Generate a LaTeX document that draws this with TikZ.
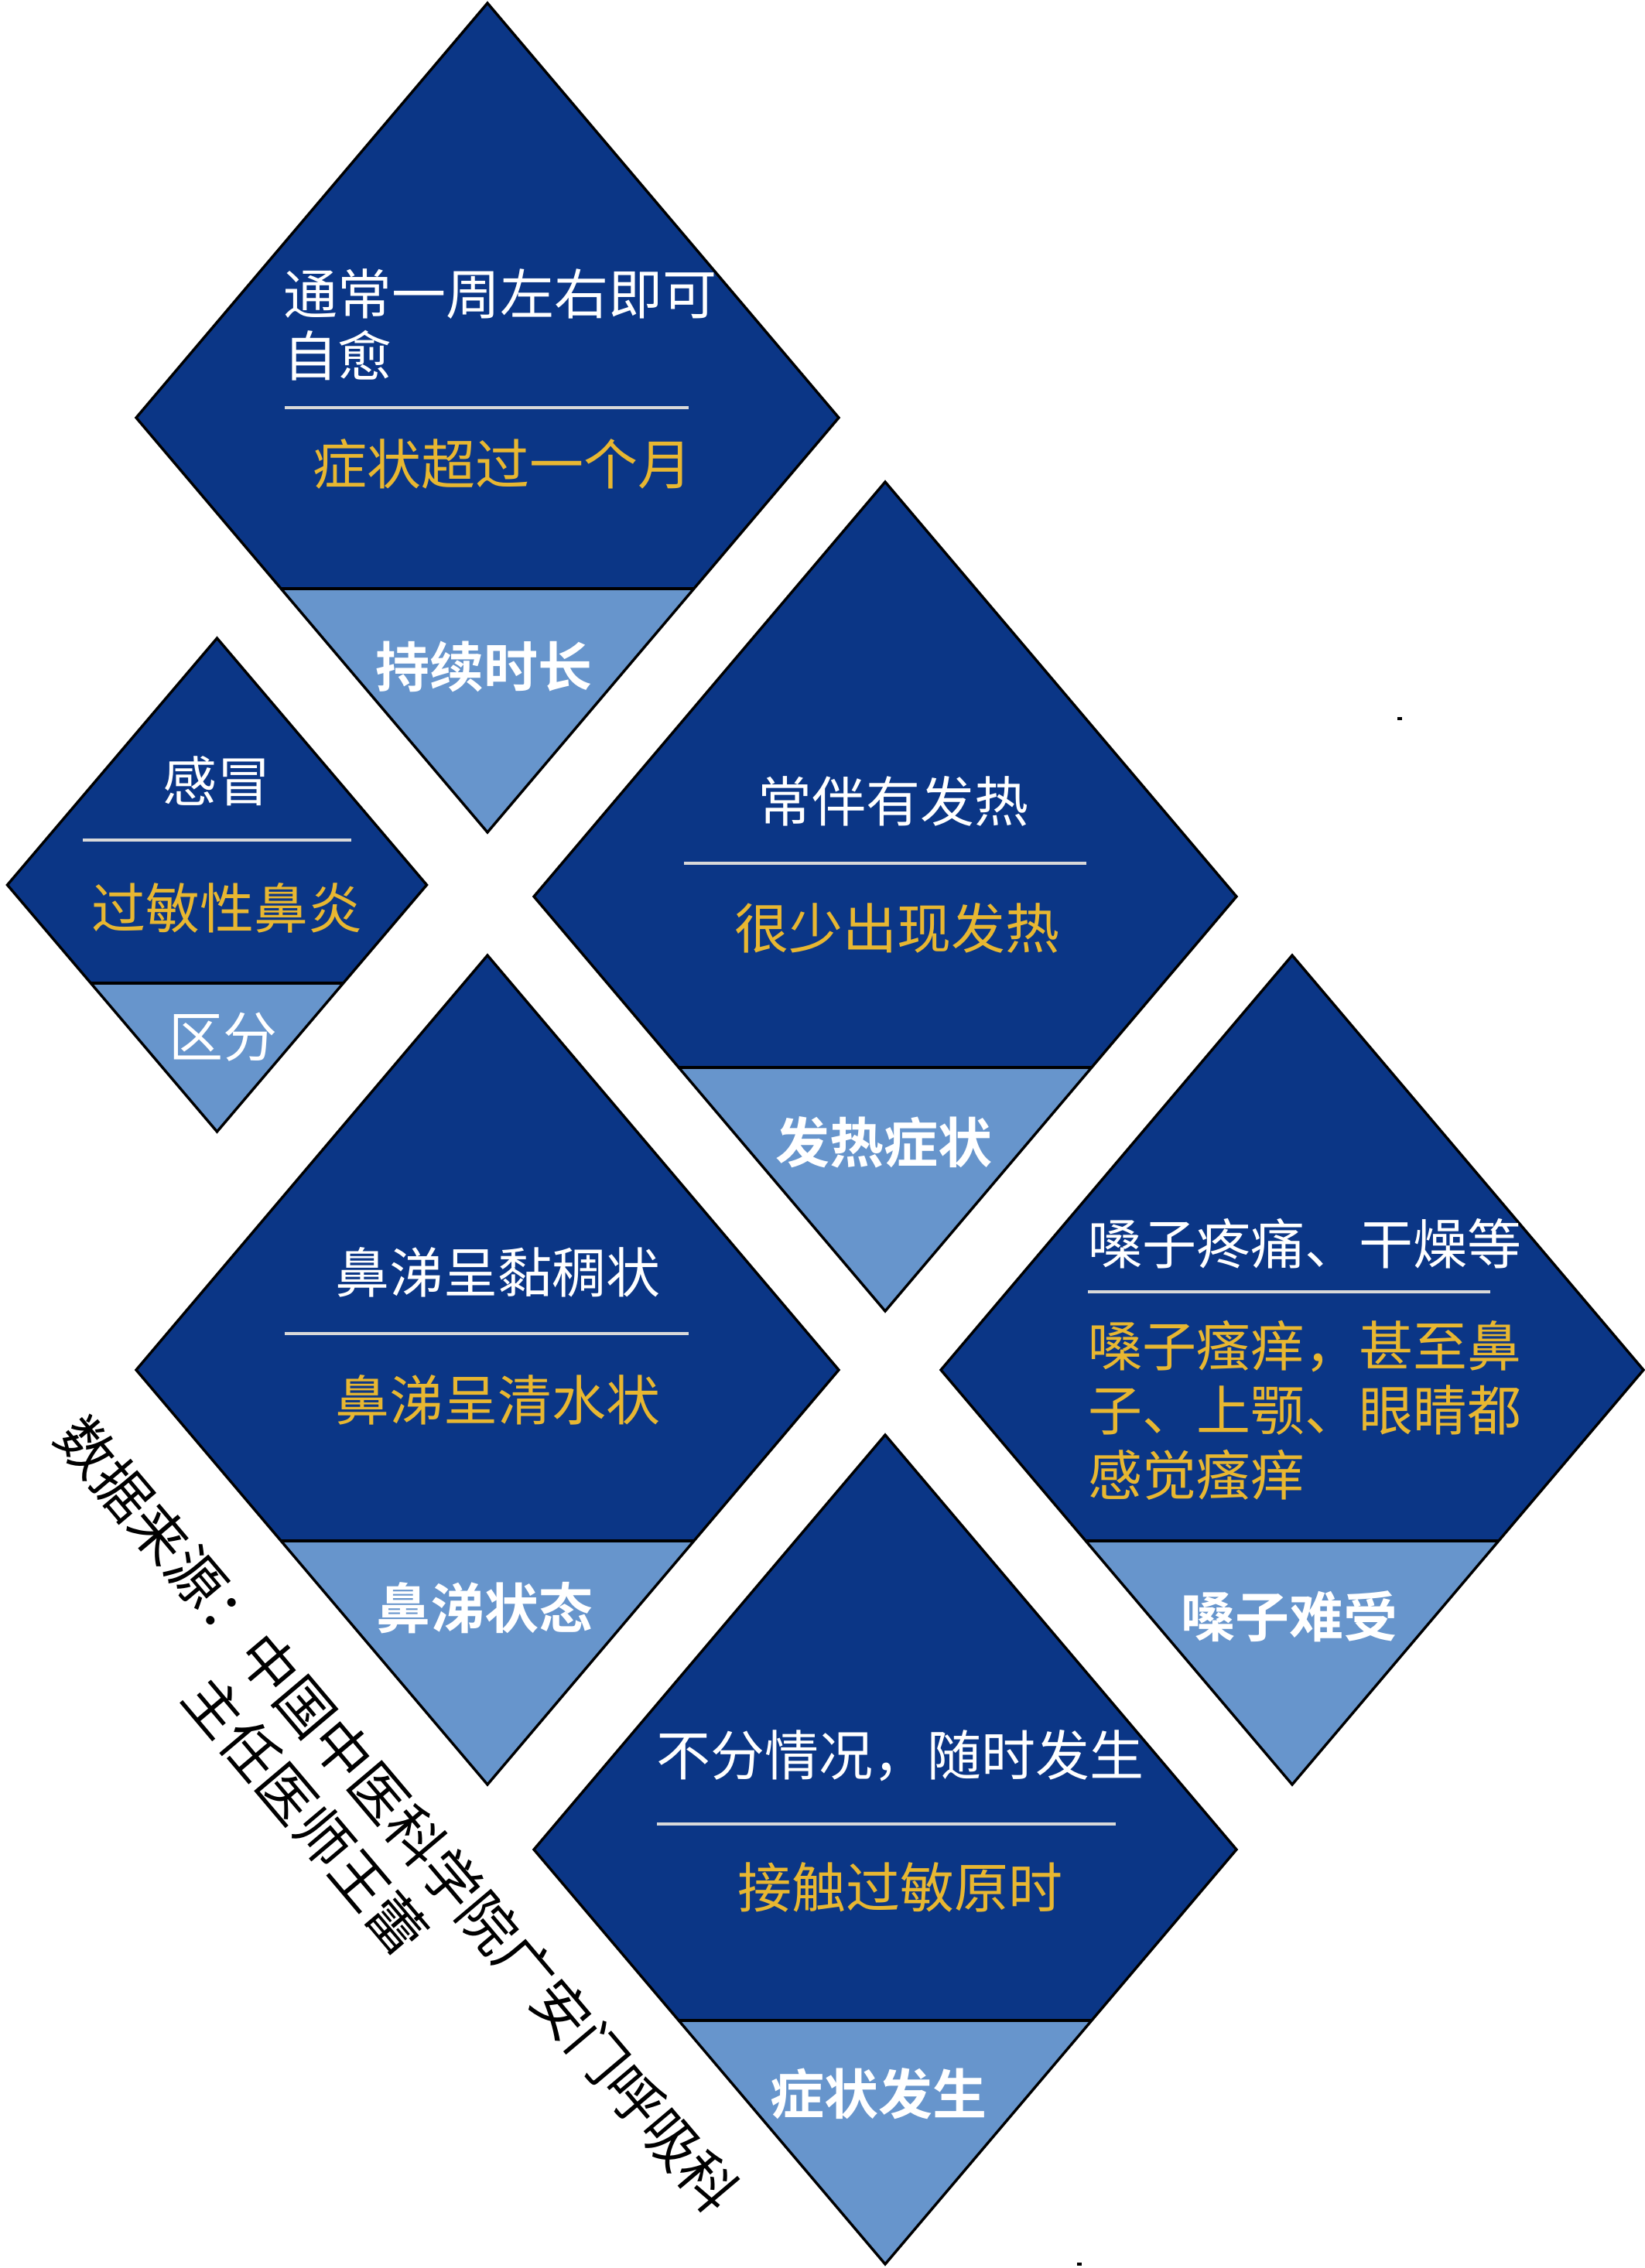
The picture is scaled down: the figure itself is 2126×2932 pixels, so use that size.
\documentclass[tikz,border=0pt]{standalone}
\usepackage{fontspec}
\setmainfont{Noto Sans CJK SC}[BoldFont={Noto Sans CJK SC Bold}]
\definecolor{navy}{HTML}{0B3686}
\definecolor{lblue}{HTML}{6795CC}
\definecolor{gold}{HTML}{E8B731}
\definecolor{sepgray}{HTML}{D9D9D9}
\tikzset{
  edge/.style={draw=black,line width=0.85pt,line join=miter},
  sepline/.style={draw=sepgray,line width=0.9pt},
  wtxt/.style={text=white,inner sep=0pt,font=\fontsize{17.5pt}{20.5pt}\selectfont},
  ytxt/.style={text=gold,inner sep=0pt,font=\fontsize{17.5pt}{20.5pt}\selectfont},
  btxt/.style={text=white,inner sep=0pt,font=\fontsize{17.5pt}{20.5pt}\selectfont\bfseries},
  srctxt/.style={text=black,inner sep=0pt,font=\fontsize{18.3pt}{21pt}\selectfont,rotate=-49.8,anchor=west},
}
\newcommand\dmd[6]{%
  \pgfmathsetmacro\dw{#4/#5*(#5-#6)}%
  \fill[navy] (#2,#3-#5) -- (#2+#4,#3) -- (#2,#3+#5) -- (#2-#4,#3) -- cycle;
  \fill[lblue] (#2-\dw,#3+#6) -- (#2+\dw,#3+#6) -- (#2,#3+#5) -- cycle;
  \draw[edge] (#2-\dw,#3+#6) -- (#2+\dw,#3+#6);
  \draw[edge] (#2,#3-#5) coordinate (#1-t) -- (#2+#4,#3) coordinate (#1-r)
     -- (#2,#3+#5) coordinate (#1-b) -- (#2-#4,#3) coordinate (#1-l) -- cycle;
}
\begin{document}
\begin{tikzpicture}[x=0.25pt,y=-0.25pt]
\useasboundingbox (0,0) rectangle (2126,2932);
% diamonds
\dmd{d1}{630}{540}{454}{536}{221}
\dmd{d2}{280.5}{1144}{271}{319}{127}
\dmd{d3}{1144}{1159}{454}{536}{221}
\dmd{d4}{630}{1771}{454}{536}{221}
\dmd{d5}{1670}{1771}{454}{536}{221}
\dmd{d6}{1144}{2391}{454}{536}{221}

% diamond 1
\node[wtxt,anchor=west] (d1a) at (366,380) {通常一周左右即可};
\node[wtxt,anchor=west] (d1b) at (366,460) {自愈};
\draw[sepline] (368,527) -- (890,527);
\node[ytxt] (d1c) at (649,600) {症状超过一个月};
\node[btxt] (d1d) at (625,862) {持续时长};

% diamond 2
\node[wtxt] (d2a) at (280.5,1010) {感冒};
\draw[sepline] (107,1086) -- (454,1086);
\node[ytxt] (d2b) at (293.5,1174) {过敏性鼻炎};
\node[wtxt] (d2c) at (288,1341) {区分};

% diamond 3
\node[wtxt] (d3a) at (1154,1036) {常伴有发热};
\draw[sepline] (884,1116) -- (1404,1116);
\node[ytxt] (d3b) at (1159,1200) {很少出现发热};
\node[btxt] (d3c) at (1142,1477) {发热症状};

% diamond 4
\node[wtxt] (d4a) at (643,1645) {鼻涕呈黏稠状};
\draw[sepline] (368,1724) -- (890,1724);
\node[ytxt] (d4b) at (643,1810) {鼻涕呈清水状};
\node[btxt] (d4c) at (626,2079) {鼻涕状态};

% diamond 5
\node[wtxt,anchor=west] (d5a) at (1406,1608) {嗓子疼痛、干燥等};
\draw[sepline] (1406,1670) -- (1926,1670);
\node[ytxt,anchor=west] (d5b) at (1406,1741) {嗓子瘙痒，甚至鼻};
\node[ytxt,anchor=west] (d5c) at (1406,1823) {子、上颚、眼睛都};
\node[ytxt,anchor=west] (d5d) at (1406,1907) {感觉瘙痒};
\node[btxt] (d5e) at (1666,2090) {嗓子难受};

% diamond 6
\node[wtxt] (d6a) at (1163,2270) {不分情况，随时发生};
\draw[sepline] (849,2358) -- (1442,2358);
\node[ytxt] (d6b) at (1163,2440) {接触过敏原时};
\node[btxt] (d6c) at (1135,2707) {症状发生};

% source text
\node[srctxt] (src1) at (88,1842) {数据来源：中国中医科学院广安门呼吸科};
\node[srctxt] (src2) at (253,2178) {主任医师王蕾};

% tiny marks
\fill[black] (1806,927) rectangle (1812,931);
\fill[black] (1392,2925) rectangle (1398,2929);
\end{tikzpicture}
\end{document}
